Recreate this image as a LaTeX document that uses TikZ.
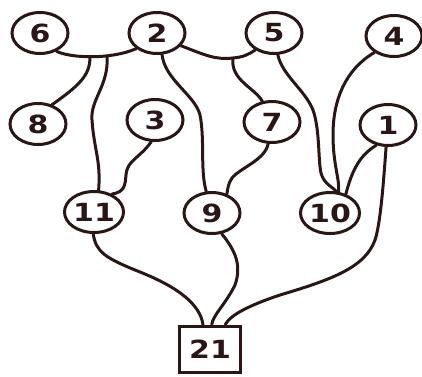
\documentclass[tikz,border=0pt]{standalone}
\usepackage{fontspec}
\newfontfamily\numfont{DejaVu Sans}[FakeStretch=1.2]
\usetikzlibrary{shapes.geometric}
\definecolor{ink}{HTML}{2B1616}
\tikzset{
  nd/.style={ellipse, draw=ink, line width=3pt, minimum width=56pt, minimum height=41pt, inner sep=0pt, font=\numfont\bfseries\fontsize{25}{25}\selectfont, text=ink},
  bx/.style={rectangle, draw=ink, line width=3pt, minimum width=61pt, minimum height=46pt, inner sep=0pt, font=\numfont\bfseries\fontsize{25}{25}\selectfont, text=ink},
  wire/.style={draw=ink, line width=3pt, line cap=round}
}
\begin{document}
\begin{tikzpicture}[x=1pt,y=-1pt]
\useasboundingbox (0,0) rectangle (422,376);
\node[nd] (n6) at (40,33) {6};
\node[nd] (n2) at (157,33) {2};
\node[nd] (n5) at (274,33) {5};
\node[nd] (n4) at (394,36) {4};
\node[nd] (n8) at (38,124) {8};
\node[nd] (n3) at (155,120) {3};
\node[nd] (n7) at (272,122) {7};
\node[nd] (n1) at (388,125) {1};
\node[nd] (n11) at (94,212) {11};
\node[nd] (n9) at (212,213) {9};
\node[nd] (n10) at (330,213) {10};
\node[bx] (n21) at (210,349) {21};
\coordinate (j8) at (90,57);
\coordinate (j11) at (107,57);
\coordinate (j7) at (233,58);
% top bars
\draw[wire] (n6.-48) .. controls (70,58) and (110,60) .. (n2.-143);
\draw[wire] (n2.-28) .. controls (205,55) and (215,60) .. (233,58) .. controls (243,57) and (248,55) .. (n5.-138);
% branches
\draw[wire] (j8) .. controls (90,75) and (80,85) .. (n8.54);
\draw[wire] (j11) .. controls (109,85) and (90,100) .. (92,120) .. controls (94,150) and (101,160) .. (n11.78);
\draw[wire] (n2.-77) .. controls (165,80) and (195,95) .. (200,115) .. controls (205,140) and (200,170) .. (n9.105);
\draw[wire] (n3.-100) .. controls (140,158) and (127,160) .. (126,175) .. controls (125,185) and (125,192) .. (n11.45);
\draw[wire] (j7) .. controls (230,80) and (255,88) .. (n7.115);
\draw[wire] (n7.-100) .. controls (265,160) and (240,168) .. (232,178) .. controls (228,184) and (228,188) .. (n9.52);
\draw[wire] (n5.-80) .. controls (282,75) and (305,90) .. (313,110) .. controls (320,130) and (318,160) .. (321,173) .. controls (324,185) and (335,188) .. (n10.75);
\draw[wire] (n4.-140) .. controls (345,70) and (333,100) .. (333,135) .. controls (333,165) and (340,180) .. (n10.68);
\draw[wire] (n1.-120) .. controls (360,155) and (352,170) .. (n10.50);
\draw[wire] (n1.-95) .. controls (383,190) and (380,225) .. (375,240) .. controls (365,268) and (330,280) .. (280,295) .. controls (250,305) and (230,315) .. (n21.58);
\draw[wire] (n11.-92) .. controls (96,252) and (105,258) .. (140,272) .. controls (180,288) and (200,305) .. (n21.106);
\draw[wire] (n9.-65) .. controls (235,250) and (242,265) .. (235,285) .. controls (225,305) and (213,315) .. (n21.86);
\end{tikzpicture}
\end{document}
